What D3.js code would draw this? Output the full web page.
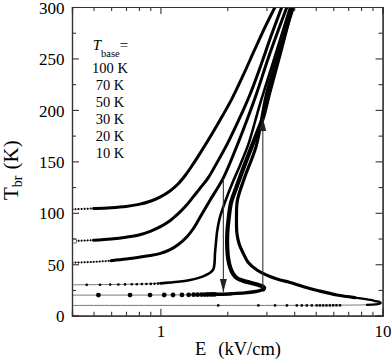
<!DOCTYPE html>
<html><head><meta charset="utf-8">
<script src="https://cdn.jsdelivr.net/npm/d3@7"></script>
<style>
body{margin:0;background:#fff;}
svg{display:block;}
text{font-family:"Liberation Serif","Times New Roman",serif;fill:#000;}
</style>
</head><body>
<svg id="c" width="391" height="360"></svg>
<script>
// ---------- data ----------
const xMajorTicks = [1, 10];
const xMinorTicks = [0.5,0.6,0.7,0.8,0.9,2,3,4,5,6,7,8,9];
const yMajorTicks = [0,50,100,150,200,250,300];
const yMinorTicks = [25,75,125,175,225,275];
const legendTitle = "T";
const legendSub = "base";
const legendLabels = ["100 K","70 K","50 K","30 K","20 K","10 K"];

// curves: [E (kV/cm), T_br (K)] along each branch
const curve100 = [[0.4,103.4],[0.5,104.2],[0.6,105],[0.7,106.2],[0.8,108.2],[0.9,111.2],[1.0,115.5],[1.1,121],[1.2,128],[1.3,137],[1.4,147],[1.5,157],[1.7,176],[1.9,194],[2.1,211],[2.35,233],[2.65,258],[2.95,280],[3.28,300]];
const curve70 = [[0.4,72.6],[0.5,73.4],[0.6,74.6],[0.7,76.3],[0.8,78.5],[0.9,82],[1.0,86.5],[1.1,92],[1.2,99],[1.3,106.5],[1.41,116],[1.51,124],[1.64,134],[1.8,149],[2.0,167],[2.25,190],[2.53,215],[2.85,245],[3.15,272],[3.52,300]];
const curve50 = [[0.4,51.5],[0.5,52.3],[0.6,53.5],[0.7,55],[0.8,56.8],[0.9,58.5],[1.0,60.6],[1.1,64],[1.2,69],[1.32,77],[1.42,86],[1.51,96],[1.67,112],[1.92,134],[2.2,164],[2.45,190],[2.7,215],[3.1,254],[3.71,300]];
const curve30 = [[0.4,30],[0.6,30.3],[0.8,30.8],[1.0,31.6],[1.2,33],[1.36,34.7],[1.5,37],[1.6,39.5],[1.68,42],[1.73,45],[1.75,50],[1.76,60],[1.78,72],[1.8,82],[1.85,95],[1.95,110],[2.1,128],[2.3,148],[2.5,168],[2.8,205],[3.2,245],[3.84,300]];
const curve20 = [[0.4,20],[1.0,20.1],[1.5,20.4],[1.8,20.8],[2.1,21.4],[2.4,22.2],[2.65,23.3],[2.82,24.6],[2.91,25.8],[2.93,27],[2.88,28.5],[2.75,30],[2.54,32],[2.35,34],[2.21,36.5],[2.12,41],[2.06,47],[2.02,55],[2.0,65],[2.0,80],[2.03,95],[2.08,110],[2.2,125],[2.35,142],[2.55,162],[2.75,180],[2.89,192],[3.1,218],[3.45,255],[3.91,300]];
const curve10 = [[0.4,10],[2,10],[5,10.1],[7,10.3],[8.5,10.6],[9.3,11],[9.7,11.6],[9.82,12.4],[9.7,13.3],[9.3,14.2],[8.8,15.3],[7.5,17.6],[6.23,20.1],[5.2,24],[4.41,28.2],[3.8,32.5],[3.46,34.7],[3.13,37.9],[2.72,44.4],[2.48,52],[2.36,60.6],[2.26,70],[2.21,80],[2.2,95],[2.22,112],[2.4,135],[2.7,165],[3.0,215],[3.4,255],[3.97,300]];

// sparse markers on the flat low-field parts
const dots30 = [[0.466,30],[0.535,30.1],[0.594,30.2],[0.647,30.3],[0.693,30.4],[0.743,30.5],[0.783,30.6],[0.825,30.7],[0.865,30.8],[0.905,30.9],[0.94,31],[0.975,31.2],[1.01,31.4],[1.04,31.6],[1.07,31.8]];
const dots20 = [[0.526,20],[0.73,20],[0.898,20],[1.04,20.1],[1.14,20.1],[1.25,20.2],[1.34,20.3],[1.41,20.4],[1.47,20.4],[1.53,20.5],[1.58,20.5],[1.63,20.6],[1.68,20.7],[1.72,20.7],[1.76,20.8]];
const dots10 = [[1.82,10],[2.76,10],[3.28,10],[3.71,10],[4.11,10],[4.33,10],[4.56,10],[4.80,10],[5.05,10],[5.22,10],[5.40,10],[5.59,10],[5.79,10],[5.99,10.1],[6.2,10.1],[6.43,10.1]];
const startMark70 = [[0.41,72.6]];

// hysteresis jumps [E, T from, T to]
const arrowDown = [1.92, 133, 23];
const arrowUp = [2.89, 26.5, 192];

// ---------- drawing ----------
const svg = d3.select("#c");
const L = 72, R = 382.6, T = 7, B = 315.7;
const x = d3.scaleLog().domain([0.4, 10]).range([L, R]);
const y = d3.scaleLinear().domain([0, 300]).range([B, T]);

const defs = svg.append("defs");
defs.append("clipPath").attr("id","clip")
  .append("rect").attr("x",L).attr("y",T).attr("width",R-L).attr("height",B-T);
defs.append("marker").attr("id","ah").attr("viewBox","0 0 13 7").attr("refX",13).attr("refY",3.5)
  .attr("markerWidth",13).attr("markerHeight",7).attr("markerUnits","userSpaceOnUse").attr("orient","auto")
  .append("path").attr("d","M0,0L13,3.5L0,7Z").attr("fill","#222");

const plot = svg.append("g").attr("clip-path","url(#clip)");
const line = d3.line().x(d=>x(d[0])).y(d=>y(d[1])).curve(d3.curveCatmullRom.alpha(0.5));

// thin connecting lines
[curve100,curve70,curve50,curve30,curve20,curve10].forEach(c=>{
  plot.append("path").attr("d",line(c)).attr("fill","none").attr("stroke","#555").attr("stroke-width",0.8);
});
// dotted starts of the smooth curves
[[curve100,0.52],[curve70,0.45],[curve50,0.6]].forEach(([c,e])=>{
  plot.append("path").attr("d",line(c.filter(d=>d[0]<=e+0.1))).attr("fill","none")
    .attr("stroke","#000").attr("stroke-width",2).attr("stroke-dasharray","1.3 1.7");
  plot.append("path").attr("d",line(c.filter(d=>d[0]>=e-0.02))).attr("fill","none")
    .attr("stroke","#000").attr("stroke-width",3).attr("stroke-linecap","round");
});
plot.selectAll(".m70").data(startMark70).join("rect").attr("x",d=>x(d[0])-2).attr("y",d=>y(d[1])-2)
  .attr("width",4).attr("height",4).attr("fill","#fff").attr("stroke","#555").attr("stroke-width",0.8);
// 30 K
plot.append("path").attr("d",line(curve30.filter(d=>d[0]>=1.0))).attr("fill","none")
  .attr("stroke","#000").attr("stroke-width",2.6).attr("stroke-linecap","round");
// 20 K
plot.append("path").attr("d",line(curve20.slice(3,10))).attr("fill","none")
  .attr("stroke","#000").attr("stroke-width",3.4).attr("stroke-linecap","round");
plot.append("path").attr("d",line(curve20.slice(8))).attr("fill","none")
  .attr("stroke","#000").attr("stroke-width",4.2).attr("stroke-linecap","round");
// 10 K
plot.append("path").attr("d",line(curve10.slice(4,13))).attr("fill","none")
  .attr("stroke","#000").attr("stroke-width",2.2).attr("stroke-linecap","round");
plot.append("path").attr("d",line(curve10.slice(11))).attr("fill","none")
  .attr("stroke","#000").attr("stroke-width",3.2).attr("stroke-linecap","round");

plot.selectAll(".d30").data(dots30).join("circle").attr("cx",d=>x(d[0])).attr("cy",d=>y(d[1])).attr("r",1.3).attr("fill","#000");
plot.selectAll(".d20").data(dots20).join("circle").attr("cx",d=>x(d[0])).attr("cy",d=>y(d[1])).attr("r",2.4).attr("fill","#000");
plot.selectAll(".d10").data(dots10).join("rect").attr("x",d=>x(d[0])-1.2).attr("y",d=>y(d[1])-1.2).attr("width",2.4).attr("height",2.4).attr("fill","#000");

// arrows
[arrowDown, arrowUp].forEach(a=>{
  svg.append("line").attr("x1",x(a[0])).attr("x2",x(a[0])).attr("y1",y(a[1])).attr("y2",y(a[2]))
    .attr("stroke","#333").attr("stroke-width",1.1).attr("marker-end","url(#ah)");
});

// axes
function styleAxis(g){ g.attr("font-family",null); g.select(".domain").attr("stroke","#333").attr("stroke-width",1.2); g.selectAll(".tick line").attr("stroke","#333").attr("stroke-width",1.1); }
const fs = 17;
svg.append("g").attr("transform",`translate(0,${B})`)
  .call(d3.axisBottom(x).tickValues(xMajorTicks).tickFormat(d3.format("d")).tickSize(-7).tickPadding(9))
  .call(styleAxis).call(g=>g.selectAll("text").attr("font-size",fs));
svg.append("g").attr("transform",`translate(0,${B})`)
  .call(d3.axisBottom(x).tickValues(xMinorTicks).tickFormat("").tickSize(-4)).call(styleAxis);
svg.append("g").attr("transform",`translate(0,${T})`)
  .call(d3.axisTop(x).tickValues(xMajorTicks).tickFormat("").tickSize(-7)).call(styleAxis);
svg.append("g").attr("transform",`translate(0,${T})`)
  .call(d3.axisTop(x).tickValues(xMinorTicks).tickFormat("").tickSize(-4)).call(styleAxis);
svg.append("g").attr("transform",`translate(${L},0)`)
  .call(d3.axisLeft(y).tickValues(yMajorTicks).tickSize(-7).tickPadding(7.5))
  .call(styleAxis).call(g=>g.selectAll("text").attr("font-size",fs).attr("dy","0.36em"));
svg.append("g").attr("transform",`translate(${L},0)`)
  .call(d3.axisLeft(y).tickValues(yMinorTicks).tickFormat("").tickSize(-4)).call(styleAxis);
svg.append("g").attr("transform",`translate(${R},0)`)
  .call(d3.axisRight(y).tickValues(yMajorTicks).tickFormat("").tickSize(-7)).call(styleAxis);
svg.append("g").attr("transform",`translate(${R},0)`)
  .call(d3.axisRight(y).tickValues(yMinorTicks).tickFormat("").tickSize(-4)).call(styleAxis);

// axis titles
const xt = svg.append("text").attr("x",195).attr("y",355).attr("font-size",18.5);
xt.append("tspan").text("E");
xt.append("tspan").attr("dx",12).text("(kV/cm)");
const yt = svg.append("text").attr("transform","translate(18,200) rotate(-90)").attr("font-size",21);
yt.append("tspan").text("T");
yt.append("tspan").attr("font-size",14).attr("dy",4).text("br");
yt.append("tspan").attr("dy",-4).attr("dx",6).text("(K)");

// legend
const lt = svg.append("text").attr("x",92.7).attr("y",50).attr("font-size",15);
lt.append("tspan").attr("font-style","italic").text(legendTitle);
lt.append("tspan").attr("font-size",10.5).attr("dy",6.5).text(legendSub);
lt.append("tspan").attr("dy",-6.5).text("=");
svg.selectAll(".leg").data(legendLabels).join("text")
  .attr("x",110).attr("y",(d,i)=>72.7+i*17.1).attr("text-anchor","middle").attr("font-size",14.5).text(d=>d);
</script>
</body></html>
